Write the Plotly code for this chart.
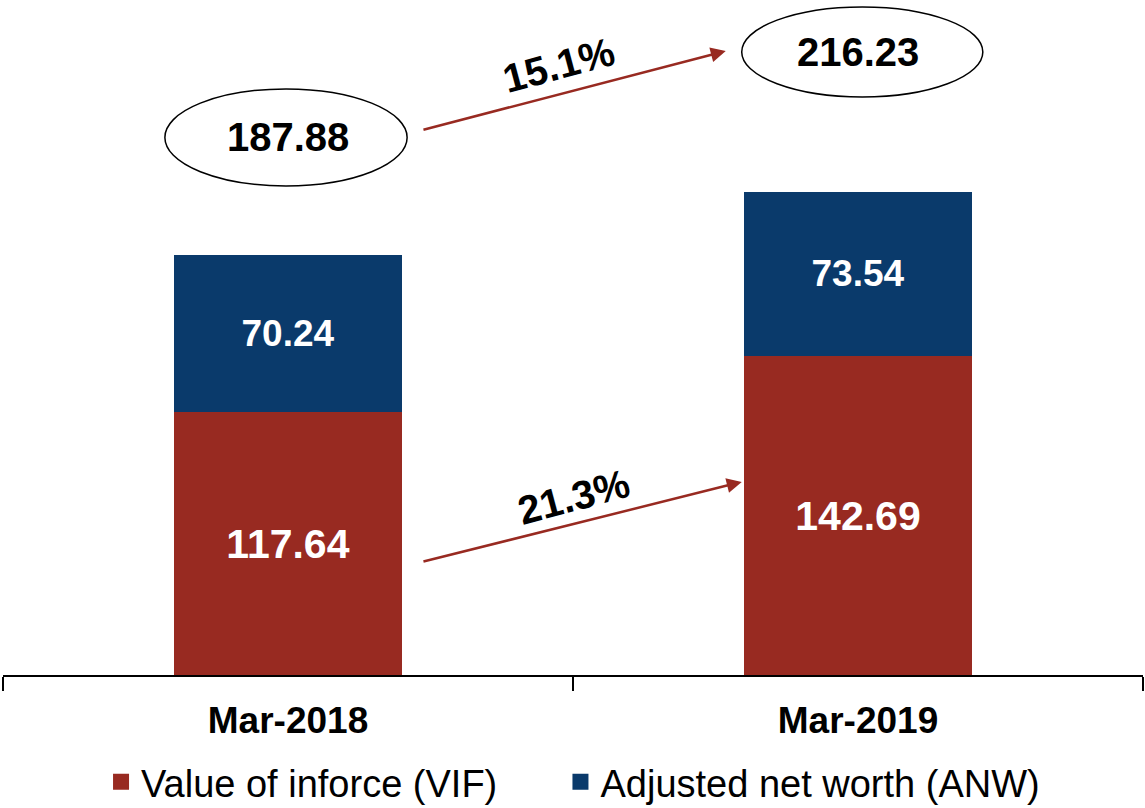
import plotly.graph_objects as go

categories = ["Mar-2018", "Mar-2019"]
vif = [117.64, 142.69]
anw = [70.24, 73.54]
growth_total = "15.1%"
growth_vif = "21.3%"

totals = [round(a + b, 2) for a, b in zip(vif, anw)]

RED = "#982A21"
BLUE = "#0A3A6B"
FONT = "Liberation Sans"

fig = go.Figure()
fig.add_trace(go.Bar(
    x=categories, y=vif, name="Value of inforce (VIF)", showlegend=False,
    legendgroup="vif",
    marker=dict(color=RED, line=dict(width=0)), width=0.4,
    text=[f"{v:.2f}" for v in vif], textposition="inside",
    insidetextanchor="middle",
    textfont=dict(family=FONT, size=41, color="white", weight="bold"),
))
fig.add_trace(go.Bar(
    x=categories, y=anw, name="Adjusted net worth (ANW)", showlegend=False,
    legendgroup="anw",
    marker=dict(color=BLUE, line=dict(width=0)), width=0.4,
    text=[f"{v:.2f}" for v in anw], textposition="inside",
    insidetextanchor="middle",
    textfont=dict(family=FONT, size=37, color="white", weight="bold"),
))
# legend proxies (larger square markers), each in its own legend box
for name, col, grp, lg in [("Value of inforce (VIF)", RED, "vif", "legend"),
                           ("Adjusted net worth (ANW)", BLUE, "anw", "legend2")]:
    fig.add_trace(go.Scatter(x=[None], y=[None], mode="markers", name=name,
                             legendgroup=grp, legend=lg,
                             marker=dict(symbol="square", size=16, color=col)))

# Total ellipses
ell = [(-0.216, 0.209, 218.8, 262.2), (0.796, 1.219, 258.6, 298.9)]
for i, ((x0, x1, y0, y1), t) in enumerate(zip(ell, totals)):
    fig.add_shape(type="circle", xref="x", yref="y", x0=x0, x1=x1, y0=y0, y1=y1,
                  line=dict(color="black", width=1.5), fillcolor="white")
    fig.add_annotation(x=i, y=(y0 + y1) / 2, xref="x", yref="y",
                       text=f"{t:.2f}", showarrow=False,
                       font=dict(family=FONT, size=40, color="black", weight="bold"))

# Arrows
arrows = [((0.235, 243.8), (0.768, 279.2)), ((0.235, 50.6), (0.796, 86.4))]
for (tx, ty), (hx, hy) in arrows:
    fig.add_annotation(x=hx, y=hy, ax=tx, ay=ty, xref="x", yref="y",
                       axref="x", ayref="y", text="", showarrow=True,
                       arrowhead=2, arrowsize=1.2, arrowwidth=2.5, arrowcolor=RED)

for (x, y), t in zip([(0.475, 272.9), (0.5, 79.6)], [growth_total, growth_vif]):
    fig.add_annotation(x=x, y=y, xref="x", yref="y", text=t, showarrow=False,
                       textangle=-15,
                       font=dict(family=FONT, size=40, color="black", weight="bold"))

legend_style = dict(orientation="h", y=-0.1585, yanchor="middle", xanchor="left",
                    font=dict(family=FONT, size=38, color="black"),
                    itemclick=False, bgcolor="rgba(0,0,0,0)")

fig.update_layout(
    width=1145, height=808,
    margin=dict(l=3, r=2, t=0, b=133, autoexpand=False),
    paper_bgcolor="white", plot_bgcolor="white",
    barmode="stack",
    showlegend=True,
    legend=dict(x=0.086, **legend_style),
    legend2=dict(x=0.489, **legend_style),
    font=dict(family=FONT),
)
fig.update_xaxes(
    type="category", range=[-0.5, 1.5], showline=True, linecolor="black", linewidth=1.5,
    ticks="outside", tickson="boundaries", ticklen=14, tickcolor="black", tickwidth=1.5,
    ticklabelstandoff=12,
    tickfont=dict(family=FONT, size=37, color="black", weight="bold"),
    showgrid=False,
)
fig.update_yaxes(range=[0, 302], visible=False, showgrid=False)

fig.write_html("out.html", config={"displayModeBar": False},
               post_script="document.body.style.margin='0';")
